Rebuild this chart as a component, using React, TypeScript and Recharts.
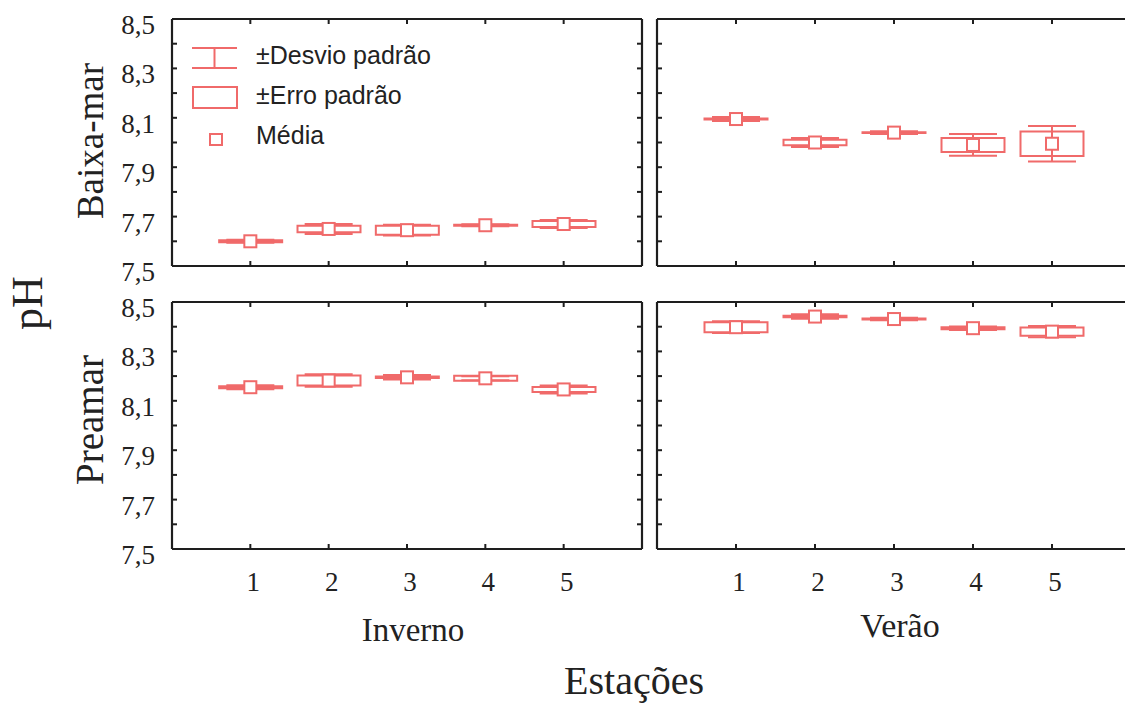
import { ComposedChart, Bar, Scatter, ErrorBar, XAxis, YAxis, Legend } from 'recharts';

const estacoes = [1, 2, 3, 4, 5];

// Baixa-mar
const invernoBaixaMedia = [7.6, 7.65, 7.645, 7.665, 7.67];
const invernoBaixaErro = [0.004, 0.013, 0.018, 0.002, 0.012];
const invernoBaixaDesvio = [0.006, 0.02, 0.022, 0.004, 0.016];

const veraoBaixaMedia = [8.095, 8.0, 8.04, 7.99, 7.995];
const veraoBaixaErro = [0.002, 0.011, 0.002, 0.028, 0.05];
const veraoBaixaDesvio = [0.008, 0.018, 0.006, 0.044, 0.072];

// Preamar
const invernoPreamarMedia = [8.155, 8.182, 8.195, 8.191, 8.146];
const invernoPreamarErro = [0.004, 0.02, 0.003, 0.01, 0.01];
const invernoPreamarDesvio = [0.008, 0.025, 0.009, 0.008, 0.016];

const veraoPreamarMedia = [8.398, 8.441, 8.431, 8.394, 8.38];
const veraoPreamarErro = [0.02, 0.003, 0.002, 0.004, 0.017];
const veraoPreamarDesvio = [0.024, 0.009, 0.005, 0.007, 0.023];

const yTicks = [7.5, 7.7, 7.9, 8.1, 8.3, 8.5];
const yMinorTicks = [7.5, 7.6, 7.7, 7.8, 7.9, 8.0, 8.1, 8.2, 8.3, 8.4, 8.5];

const RED = '#f06a6a';
const FRAME = '#1e1e1e';
const INK = '#222';
const SERIF = '"Liberation Serif", "Times New Roman", serif';
const SANS = '"Liberation Sans", Arial, sans-serif';
const PLOT_H = 247;

const makeRows = (media: number[], erro: number[], desvio: number[]) =>
  estacoes.map((x, i) => ({
    x,
    media: media[i],
    erro: [media[i] - erro[i], media[i] + erro[i]],
    desvio: desvio[i],
  }));

const XTick = ({ x, y, payload }: any) => (
  <text x={x + 3} y={y + 42} textAnchor="middle" fontFamily={SERIF} fontSize={27} fill={INK}>
    {payload.value}
  </text>
);

const YTick = ({ x, y, payload }: any) => (
  <text x={x - 17} y={y + 15} textAnchor="end" fontFamily={SERIF} fontSize={27} fill={INK}>
    {Number(payload.value).toFixed(1).replace('.', ',')}
  </text>
);

// draws nothing, so only the inward tick marks are left
const NoLabel = () => <g />;

const MeanSquare = ({ cx, cy }: any) => (
  <rect x={cx - 6} y={cy - 6} width={12} height={12} fill="#fff" stroke={RED} strokeWidth={2} />
);

const LegendBox = () => (
  <svg width={290} height={115} style={{ display: 'block' }}>
    <line x1={2} y1={8} x2={47} y2={8} stroke={RED} strokeWidth={2} />
    <line x1={24.5} y1={8} x2={24.5} y2={28} stroke={RED} strokeWidth={2} />
    <line x1={2} y1={28} x2={47} y2={28} stroke={RED} strokeWidth={2} />
    <text x={66} y={24} fontFamily={SANS} fontSize={25} fill={INK}>±Desvio padrão</text>
    <rect x={3} y={47} width={44} height={21} fill="#fff" stroke={RED} strokeWidth={2} />
    <text x={66} y={64} fontFamily={SANS} fontSize={25} fill={INK}>±Erro padrão</text>
    <rect x={20} y={94} width={12} height={11} fill="#fff" stroke={RED} strokeWidth={2} />
    <text x={66} y={104} fontFamily={SANS} fontSize={25} fill={INK}>Média</text>
  </svg>
);

interface PainelProps {
  rows: ReturnType<typeof makeRows>;
  left: number;
  top: number;
  plotWidth: number;
  showY?: boolean;
  showX?: boolean;
  legend?: boolean;
}

function Painel({ rows, left, top, plotWidth, showY = false, showX = false, legend = false }: PainelProps) {
  const YW = 60;
  const MT = 10;
  const MR = 10;
  const XH = 60;
  const frame = { stroke: FRAME, strokeWidth: 2.2 };
  const tickStroke = { stroke: FRAME, strokeWidth: 2 };

  return (
    <div style={{ position: 'absolute', left: left - YW, top: top - MT }}>
      <ComposedChart
        width={YW + plotWidth + MR}
        height={MT + PLOT_H + XH}
        data={rows}
        margin={{ top: MT, right: MR, left: 0, bottom: 0 }}
      >
        <XAxis
          xAxisId="b"
          dataKey="x"
          type="number"
          domain={[0, 6]}
          ticks={estacoes}
          allowDataOverflow
          height={XH}
          axisLine={frame}
          tickLine={false}
          tickSize={0}
          tickMargin={0}
          tick={showX ? XTick : false}
        />
        <XAxis
          xAxisId="bi"
          dataKey="x"
          type="number"
          domain={[0, 6]}
          ticks={estacoes}
          allowDataOverflow
          mirror
          axisLine={false}
          tick={NoLabel}
          tickSize={5}
          tickLine={tickStroke}
        />
        <XAxis
          xAxisId="t"
          dataKey="x"
          orientation="top"
          type="number"
          domain={[0, 6]}
          ticks={estacoes}
          allowDataOverflow
          mirror
          axisLine={frame}
          tick={NoLabel}
          tickSize={5}
          tickLine={tickStroke}
        />
        <YAxis
          yAxisId="l"
          type="number"
          domain={[7.5, 8.5]}
          ticks={yTicks}
          allowDataOverflow
          width={YW}
          axisLine={frame}
          tickLine={false}
          tickSize={0}
          tickMargin={0}
          tick={showY ? YTick : false}
        />
        <YAxis
          yAxisId="li"
          type="number"
          domain={[7.5, 8.5]}
          ticks={yMinorTicks}
          allowDataOverflow
          mirror
          axisLine={false}
          tick={NoLabel}
          tickSize={5}
          tickLine={tickStroke}
        />
        <YAxis
          yAxisId="r"
          orientation="right"
          type="number"
          domain={[7.5, 8.5]}
          ticks={yMinorTicks}
          allowDataOverflow
          mirror
          axisLine={frame}
          tick={NoLabel}
          tickSize={5}
          tickLine={tickStroke}
        />
        <Scatter xAxisId="b" yAxisId="l" dataKey="media" shape={() => <g />} isAnimationActive={false}>
          <ErrorBar dataKey="desvio" direction="y" width={24} stroke={RED} strokeWidth={2} isAnimationActive={false} />
        </Scatter>
        <Bar
          xAxisId="b"
          yAxisId="l"
          dataKey="erro"
          barSize={63}
          fill="#fff"
          stroke={RED}
          strokeWidth={2}
          isAnimationActive={false}
        />
        <Scatter xAxisId="b" yAxisId="l" dataKey="media" shape={MeanSquare} isAnimationActive={false} />
        {legend && (
          <Legend
            layout="horizontal"
            verticalAlign="middle"
            align="center"
            wrapperStyle={{ left: 78, top: 31, width: 290, height: 115 }}
            content={LegendBox}
          />
        )}
      </ComposedChart>
    </div>
  );
}

export default function App() {
  return (
    <div
      style={{
        position: 'absolute',
        left: 0,
        top: 0,
        width: 1125,
        height: 706,
        overflow: 'hidden',
        background: '#fff',
      }}
    >
      <svg width={1125} height={706} style={{ position: 'absolute', left: 0, top: 0 }}>
        <text transform="translate(42,303) rotate(-90)" textAnchor="middle" fontFamily={SERIF} fontSize={44} fill={INK}>
          pH
        </text>
        <text transform="translate(103,141) rotate(-90)" textAnchor="middle" fontFamily={SERIF} fontSize={37} fill={INK}>
          Baixa-mar
        </text>
        <text transform="translate(103,420) rotate(-90)" textAnchor="middle" fontFamily={SERIF} fontSize={39} fill={INK}>
          Preamar
        </text>
        <text x={413} y={641} textAnchor="middle" fontFamily={SERIF} fontSize={33} fill={INK}>
          Inverno
        </text>
        <text x={900} y={637} textAnchor="middle" fontFamily={SERIF} fontSize={34} fill={INK}>
          Verão
        </text>
        <text x={634} y={694} textAnchor="middle" fontFamily={SERIF} fontSize={40} fill={INK}>
          Estações
        </text>
      </svg>
      <Painel
        rows={makeRows(invernoBaixaMedia, invernoBaixaErro, invernoBaixaDesvio)}
        left={172}
        top={19}
        plotWidth={470}
        showY
        legend
      />
      <Painel
        rows={makeRows(veraoBaixaMedia, veraoBaixaErro, veraoBaixaDesvio)}
        left={657}
        top={19}
        plotWidth={474}
      />
      <Painel
        rows={makeRows(invernoPreamarMedia, invernoPreamarErro, invernoPreamarDesvio)}
        left={172}
        top={302}
        plotWidth={470}
        showY
        showX
      />
      <Painel
        rows={makeRows(veraoPreamarMedia, veraoPreamarErro, veraoPreamarDesvio)}
        left={657}
        top={302}
        plotWidth={474}
        showX
      />
    </div>
  );
}
